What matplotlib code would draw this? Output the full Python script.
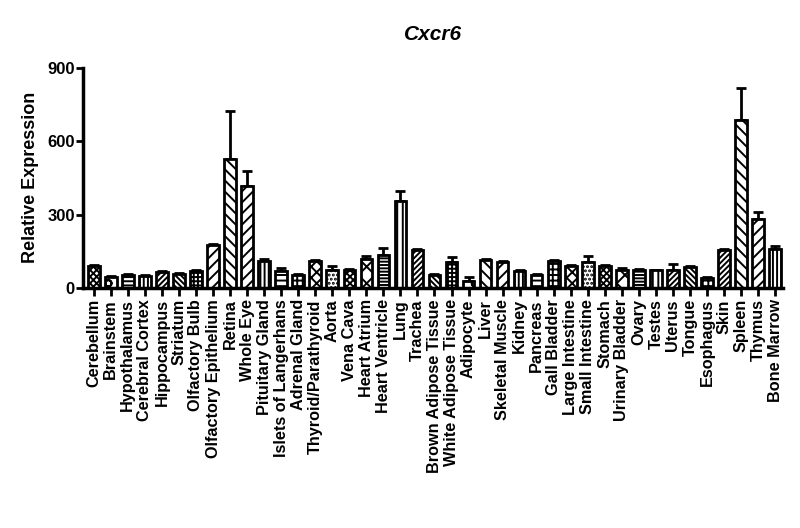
import matplotlib
matplotlib.use("Agg")
import matplotlib.pyplot as plt
import numpy as np

plt.rcParams['font.family'] = ['Liberation Sans', 'DejaVu Sans']
plt.rcParams['font.weight'] = 'bold'
plt.rcParams['hatch.linewidth'] = 1.4

tissues = ["Cerebellum", "Brainstem", "Hypothalamus", "Cerebral Cortex", "Hippocampus",
           "Striatum", "Olfactory Bulb", "Olfactory Epithelium", "Retina", "Whole Eye",
           "Pituitary Gland", "Islets of Langerhans", "Adrenal Gland", "Thyroid/Parathyroid",
           "Aorta", "Vena Cava", "Heart Atrium", "Heart Ventricle", "Lung", "Trachea",
           "Brown Adipose Tissue", "White Adipose Tissue", "Adipocyte", "Liver",
           "Skeletal Muscle", "Kidney", "Pancreas", "Gall Bladder", "Large Intestine",
           "Small Intestine", "Stomach", "Urinary Bladder", "Ovary", "Testes", "Uterus",
           "Tongue", "Esophagus", "Skin", "Spleen", "Thymus", "Bone Marrow"]

values = [88, 45, 55, 50, 65, 58, 70, 175, 528, 415,
          112, 68, 55, 110, 72, 73, 120, 135, 355, 155,
          55, 105, 30, 115, 105, 70, 55, 112, 88,
          105, 88, 75, 72, 72, 75, 85, 42, 155, 685, 280, 160]

errors = [5, 3, 3, 2, 3, 4, 5, 6, 195, 62,
          8, 15, 3, 4, 18, 5, 10, 30, 42, 3,
          3, 20, 15, 5, 4, 3, 3, 4, 5,
          25, 5, 5, 6, 3, 25, 4, 3, 5, 132, 30, 10]

hatches = ['xxxxx', 'o', '----', '||||', '//////', '\\\\\\\\\\\\', '++++', '///', '\\\\\\', '///',
           '||||', '---', '+++', 'xxx', '....', 'xxxxx', 'xx', '-----', '|||', '//////',
           '\\\\\\\\\\\\', '++++', 'o', '\\\\\\', '///', '||||', '---', '+++', 'xxx',
           '....', 'xxxxx', 'xx', '-----', '|||', '//////', '\\\\\\\\\\\\', '+++', '//////',
           '\\\\\\', '///', '||||']

fig = plt.figure(figsize=(8.0, 5.28), dpi=100)
ax = fig.add_axes([0.104, 0.4545, 0.875, 0.4173])

x = np.arange(len(tissues))
bars = ax.bar(x, values, width=0.68, color='white', edgecolor='black', linewidth=2.0, zorder=2)
for b, h in zip(bars, hatches):
    b.set_hatch(h)
ax.errorbar(x, values, yerr=[np.zeros(len(values)), errors], fmt='none', ecolor='black',
            elinewidth=2.0, capsize=3.5, capthick=2.0, zorder=1)

ax.set_xlim(-0.62, len(tissues) - 0.53)
ax.set_ylim(0, 900)
ax.set_yticks([0, 300, 600, 900])
ax.set_xticks(x)
ax.set_xticklabels(tissues, rotation=90, fontsize=11.7, fontweight='bold')
ax.tick_params(axis='y', labelsize=12, width=2, length=5, pad=1)
ax.tick_params(axis='x', width=2, length=6, pad=2)
for lab in ax.get_yticklabels():
    lab.set_fontweight('bold')

for s in ['top', 'right']:
    ax.spines[s].set_visible(False)
for s in ['left', 'bottom']:
    ax.spines[s].set_linewidth(2.5)

ax.set_ylabel('Relative Expression', fontsize=13, fontweight='bold', labelpad=6)
ax.set_title('Cxcr6', fontsize=15, fontweight='bold', fontstyle='italic', pad=20)

fig.savefig('out.png', dpi=100)
